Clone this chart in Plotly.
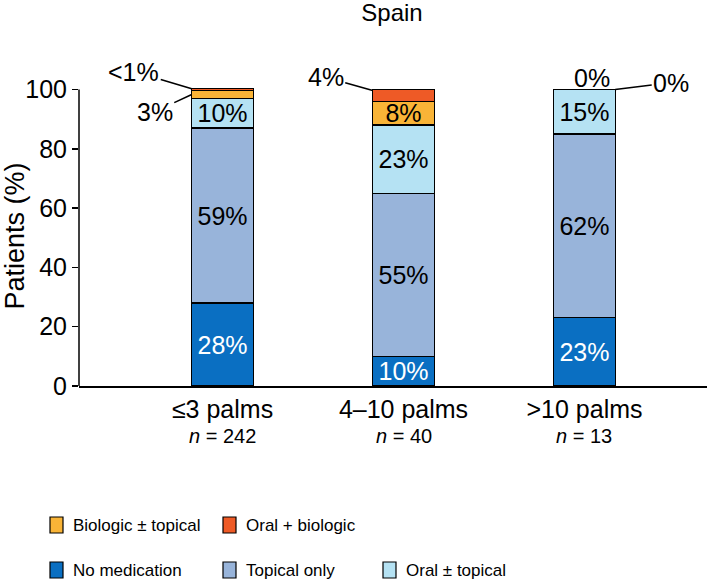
import plotly.graph_objects as go

categories = ["≤3 palms", "4–10 palms", ">10 palms"]
n_labels = ["242", "40", "13"]
series_names = ["No medication", "Topical only", "Oral ± topical", "Biologic ± topical", "Oral + biologic"]
no_medication = [28, 10, 23]
topical_only = [59, 55, 62]
oral_topical = [10, 23, 15]
biologic_topical = [2.6, 8, 0]
oral_biologic = [0.7, 4, 0]
inside_labels = {
    "No medication": ["28%", "10%", "23%"],
    "Topical only": ["59%", "55%", "62%"],
    "Oral ± topical": ["10%", "23%", "15%"],
    "Biologic ± topical": ["", "8%", ""],
    "Oral + biologic": ["", "", ""],
}
outside_labels = ["<1%", "3%", "4%", "0%", "0%"]
legend_rows = [["Biologic ± topical", "Oral + biologic"],
               ["No medication", "Topical only", "Oral ± topical"]]
y_ticks = [0, 20, 40, 60, 80, 100]

colors = {
    "No medication": "#0a6fc2",
    "Topical only": "#98b4da",
    "Oral ± topical": "#b5e2f3",
    "Biologic ± topical": "#f9b437",
    "Oral + biologic": "#ee5a26",
}
values = {
    "No medication": no_medication,
    "Topical only": topical_only,
    "Oral ± topical": oral_topical,
    "Biologic ± topical": biologic_topical,
    "Oral + biologic": oral_biologic,
}

FONT = "Liberation Sans, Arial, Helvetica, sans-serif"
W_PX, H_PX = 709, 584
L, R, T, B = 79, 2, 86, 198
PW, PH = W_PX - L - R, H_PX - T - B


def px_x(p):
    return (p - L) / PW


def px_y(p):
    return (H_PX - B - p) / PH


xpos = list(range(len(categories)))
W = 0.34

fig = go.Figure()
for name in series_names:
    txtcol = ["white" if name == "No medication" else "black"] * len(xpos)
    fig.add_trace(go.Bar(
        x=xpos, y=values[name], name=name, width=W,
        marker=dict(color=colors[name], line=dict(color="black", width=1.3)),
        text=inside_labels[name], textposition="inside", insidetextanchor="middle",
        textangle=0, constraintext="none",
        textfont=dict(family=FONT, size=25, color=txtcol),
        showlegend=False, hoverinfo="skip",
    ))

# outside labels with leader lines
b1_top = sum(v[0] for v in values.values())
b1_bio = no_medication[0] + topical_only[0] + oral_topical[0] + biologic_topical[0] / 2
b2_top = no_medication[1] + topical_only[1] + oral_topical[1] + biologic_topical[1] + oral_biologic[1]
b3_top = no_medication[2] + topical_only[2] + oral_topical[2]
ann_specs = [
    (0 - W / 2, b1_top, -58, -17, outside_labels[0]),
    (0 - W / 2, b1_bio, -37, 17, outside_labels[1]),
    (1 - W / 2, b2_top - 0.3, -47, -13, outside_labels[2]),
    (2 + W / 2, b3_top, 56, -7, outside_labels[4]),
]
for x, y, ax, ay, t in ann_specs:
    fig.add_annotation(x=x, y=y, ax=ax, ay=ay, text=t, showarrow=True, arrowhead=0,
                       arrowwidth=1.6, arrowcolor="black", standoff=0, startstandoff=0,
                       font=dict(family=FONT, size=25, color="black"))
fig.add_annotation(x=2, y=b3_top, text=outside_labels[3], showarrow=False, yanchor="middle",
                   yshift=12, xshift=8, font=dict(family=FONT, size=25, color="black"))

# n = labels
for i, n in enumerate(n_labels):
    fig.add_annotation(x=xpos[i], y=0, yref="y", text=f"<i>n</i> = {n}", showarrow=False,
                       yanchor="middle", yshift=-50, font=dict(family=FONT, size=20, color="black"))

# y axis line from 0 to 100
fig.add_shape(type="line", xref="paper", yref="y", x0=0, x1=0, y0=0, y1=100,
              line=dict(color="black", width=1.5))

# manual legend (two rows)
col_sq = [50, 223, 383]
row_cy = [525, 570]
for r, row in enumerate(legend_rows):
    for c, name in enumerate(row):
        x0 = col_sq[c]
        cy = row_cy[r]
        fig.add_shape(type="rect", xref="paper", yref="paper",
                      x0=px_x(x0), x1=px_x(x0 + 13), y0=px_y(cy + 8), y1=px_y(cy - 8),
                      fillcolor=colors[name], line=dict(color="black", width=1.2))
        fig.add_annotation(xref="paper", yref="paper", x=px_x(x0 + 21), y=px_y(cy),
                           xanchor="left", yanchor="middle", text=name, showarrow=False,
                           font=dict(family=FONT, size=17, color="black"))

fig.update_layout(
    width=W_PX, height=H_PX,
    margin=dict(l=L, r=R, t=T, b=B, autoexpand=False),
    paper_bgcolor="white", plot_bgcolor="white",
    barmode="stack",
    uniformtext=dict(minsize=25, mode="show"),
    title=dict(text="Spain", x=392 / W_PX, xanchor="center",
               y=1 - 13 / H_PX, yanchor="middle",
               font=dict(family=FONT, size=24, color="black")),
    font=dict(family=FONT, color="black"),
    xaxis=dict(range=[-0.793, 2.677], tickmode="array", tickvals=xpos, ticktext=categories,
               showline=True, linecolor="black", linewidth=1.5, ticks="", showgrid=False,
               zeroline=False, automargin=False,
               tickfont=dict(family=FONT, size=25, color="black")),
    yaxis=dict(range=[0, 101.2], tickvals=y_ticks, showline=False,
               ticks="outside", ticklen=6, tickwidth=1.5, tickcolor="black", showgrid=False,
               zeroline=False, automargin=False,
               tickfont=dict(family=FONT, size=25, color="black"),
               title=dict(text="Patients (%)", font=dict(family=FONT, size=27, color="black"),
                          standoff=6)),
    showlegend=False,
)

fig.write_html("out.html", config={"displayModeBar": False, "staticPlot": True},
               post_script="document.body.style.margin='0';document.body.style.overflow='hidden';")
